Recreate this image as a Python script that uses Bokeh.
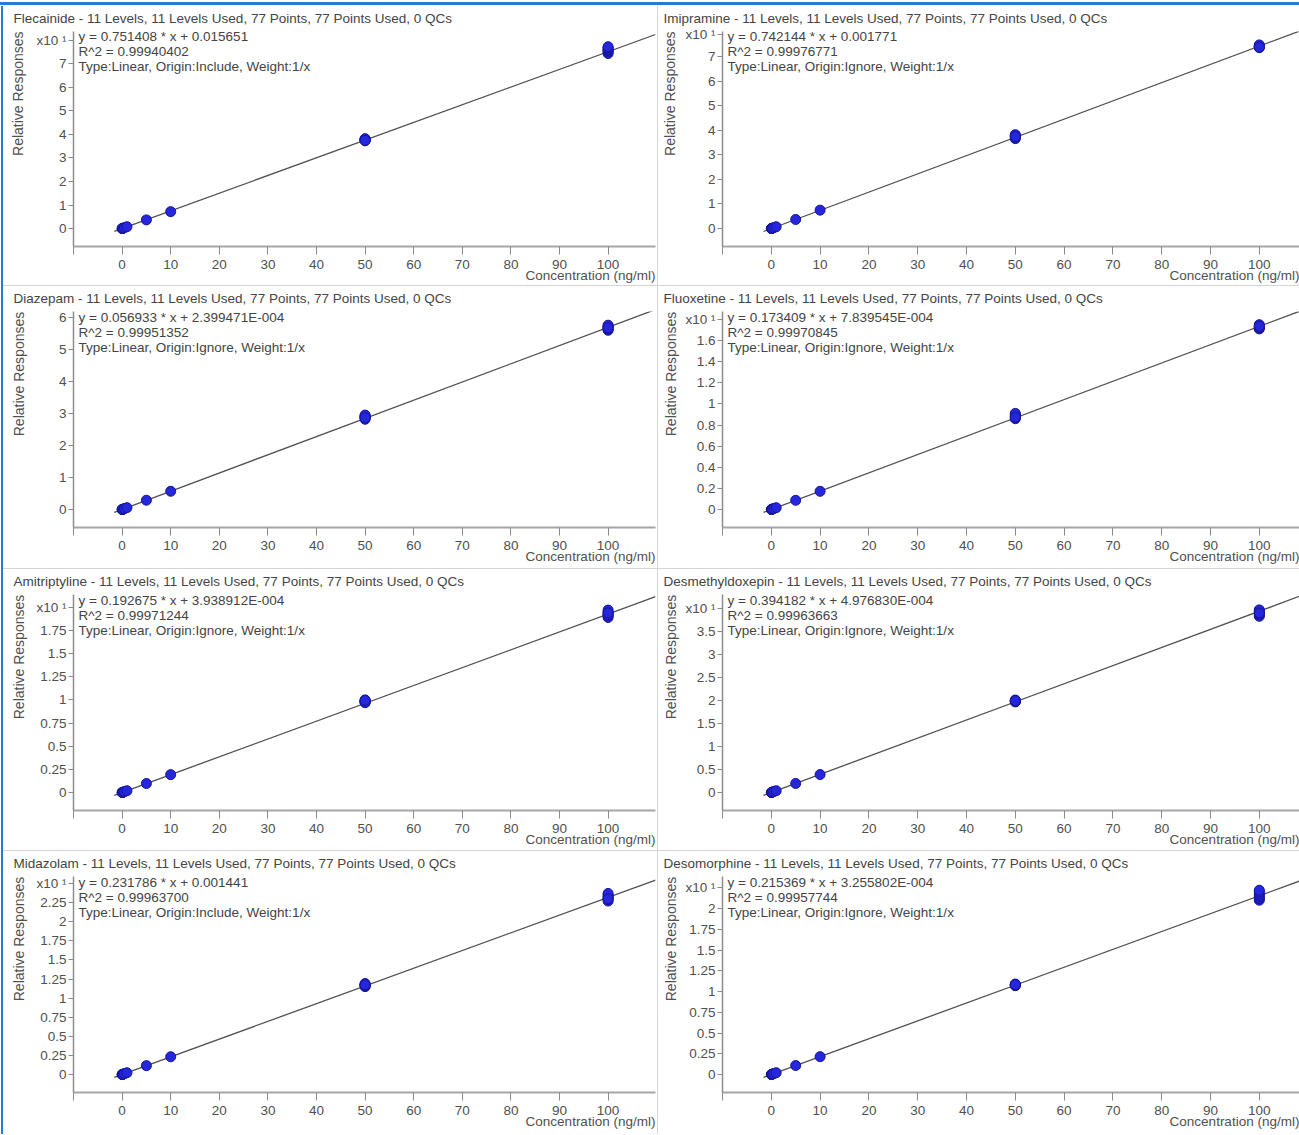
import numpy as np
from bokeh.plotting import figure
from bokeh.models import Range1d, FixedTicker, Label, LinearAxis, Div
from bokeh.layouts import column, row
from bokeh.embed import file_html
from bokeh.resources import INLINE

# ---------------- data ----------------
compounds = ["Flecainide", "Imipramine", "Diazepam", "Fluoxetine",
             "Amitriptyline", "Desmethyldoxepin", "Midazolam", "Desomorphine"]
slopes = [0.751408, 0.742144, 0.056933, 0.173409, 0.192675, 0.394182, 0.231786, 0.215369]
intercepts = [0.015651, 0.001771, 2.399471e-4, 7.839545e-4, 3.938912e-4, 4.976830e-4, 0.001441, 3.255802e-4]
slope_text = ["0.751408", "0.742144", "0.056933", "0.173409", "0.192675", "0.394182", "0.231786", "0.215369"]
intercept_text = ["0.015651", "0.001771", "2.399471E-004", "7.839545E-004",
                  "3.938912E-004", "4.976830E-004", "0.001441", "3.255802E-004"]
r2_text = ["0.99940402", "0.99976771", "0.99951352", "0.99970845",
           "0.99971244", "0.99963663", "0.99963700", "0.99957744"]
origin_text = ["Include", "Ignore", "Ignore", "Ignore", "Ignore", "Ignore", "Include", "Ignore"]
exponent = [1, 1, 0, 1, 1, 1, 1, 1]

levels_low = [0.01, 0.02, 0.05, 0.1, 0.2, 0.5, 1, 5, 10]

# relative responses as displayed on each axis (x10^exponent)
resp_low = {
    "Flecainide":       [0.002, 0.003, 0.005, 0.009, 0.017, 0.040, 0.078, 0.37, 0.72],
    "Imipramine":       [0.001, 0.002, 0.004, 0.007, 0.015, 0.037, 0.074, 0.37, 0.75],
    "Diazepam":         [0.001, 0.001, 0.003, 0.006, 0.011, 0.029, 0.057, 0.29, 0.57],
    "Fluoxetine":       [0.0002, 0.0004, 0.001, 0.0018, 0.0035, 0.0087, 0.017, 0.087, 0.172],
    "Amitriptyline":    [0.0002, 0.0004, 0.001, 0.002, 0.0039, 0.0097, 0.019, 0.097, 0.193],
    "Desmethyldoxepin": [0.0004, 0.0008, 0.002, 0.0039, 0.0079, 0.020, 0.039, 0.197, 0.39],
    "Midazolam":        [0.0002, 0.0005, 0.0012, 0.0023, 0.0046, 0.0116, 0.023, 0.116, 0.232],
    "Desomorphine":     [0.0002, 0.0004, 0.0011, 0.0022, 0.0043, 0.0108, 0.0215, 0.108, 0.215],
}
resp_50 = {
    "Flecainide":       [3.73, 3.76, 3.78, 3.80, 3.77, 3.82, 3.75],
    "Imipramine":       [3.66, 3.70, 3.73, 3.76, 3.79, 3.82, 3.74],
    "Diazepam":         [2.82, 2.86, 2.88, 2.90, 2.93, 2.95, 2.87],
    "Fluoxetine":       [0.86, 0.87, 0.88, 0.89, 0.90, 0.91, 0.875],
    "Amitriptyline":    [0.97, 0.98, 0.99, 1.00, 0.985, 0.975, 0.995],
    "Desmethyldoxepin": [1.97, 1.98, 1.99, 2.00, 2.01, 1.985, 1.995],
    "Midazolam":        [1.15, 1.16, 1.17, 1.18, 1.19, 1.165, 1.175],
    "Desomorphine":     [1.07, 1.075, 1.08, 1.085, 1.09, 1.078, 1.082],
}
resp_100 = {
    "Flecainide":       [7.44, 7.50, 7.55, 7.58, 7.63, 7.68, 7.73],
    "Imipramine":       [7.36, 7.39, 7.41, 7.44, 7.42, 7.47, 7.38],
    "Diazepam":         [5.60, 5.63, 5.66, 5.70, 5.73, 5.76, 5.68],
    "Fluoxetine":       [1.71, 1.72, 1.73, 1.74, 1.75, 1.725, 1.735],
    "Amitriptyline":    [1.89, 1.91, 1.93, 1.95, 1.97, 1.92, 1.94],
    "Desmethyldoxepin": [3.83, 3.86, 3.89, 3.92, 3.95, 3.97, 3.90],
    "Midazolam":        [2.27, 2.29, 2.31, 2.33, 2.35, 2.37, 2.30],
    "Desomorphine":     [2.10, 2.12, 2.14, 2.16, 2.18, 2.20, 2.22],
}

y_ticks = [
    [0, 1, 2, 3, 4, 5, 6, 7],
    [0, 1, 2, 3, 4, 5, 6, 7],
    [0, 1, 2, 3, 4, 5, 6],
    [0, 0.2, 0.4, 0.6, 0.8, 1, 1.2, 1.4, 1.6],
    [0, 0.25, 0.5, 0.75, 1, 1.25, 1.5, 1.75],
    [0, 0.5, 1, 1.5, 2, 2.5, 3, 3.5],
    [0, 0.25, 0.5, 0.75, 1, 1.25, 1.5, 1.75, 2, 2.25],
    [0, 0.25, 0.5, 0.75, 1, 1.25, 1.5, 1.75, 2],
]
exp_tick = [8, 7.9, None, 1.8, 2.0, 4.0, 2.5, 2.25]
x_ticks = [-10, 0, 10, 20, 30, 40, 50, 60, 70, 80, 90, 100]
y_title = "Relative Responses"
x_title = "Concentration (ng/ml)"

# ---------------- layout / style ----------------
ppu_y = [23.64, 24.7, 32.0, 105.6, 92.6, 46.0, 76.4, 83.0]   # px per y unit
ROW_H = [279, 282, 281, 283]
TOP_B = 25
FRAME_H = 216
FONT = "Liberation Sans"
TXT = "#444444"
TICK_TXT = "#505050"
AXIS_COL = "#a6a6a6"
SEP = "#d4d4d4"
FS = "13.5px"


def fmt(v):
    return "%g" % v


def plain_axis(ax, size=FS):
    ax.axis_line_color = None
    ax.major_tick_line_color = None
    ax.minor_tick_line_color = None
    ax.major_tick_in = 0
    ax.major_tick_out = 0
    ax.major_label_text_font = FONT
    ax.major_label_text_font_size = size
    ax.major_label_text_color = TICK_TXT


def make_panel(i, col):
    name = compounds[i]
    r = i // 2
    if col == 0:
        W, mbl, mbr, ppu = 653, 70, 1, 4.86
    else:
        W, mbl, mbr, ppu = 641, 64, 0, 4.88
    frame_w = W - mbl - mbr
    x_hi = -10 + frame_w / ppu
    y_lo = -18.0 / ppu_y[i]
    y_hi = y_lo + FRAME_H / ppu_y[i]
    title = f"{name} - 11 Levels, 11 Levels Used, 77 Points, 77 Points Used, 0 QCs"
    p = figure(width=W, height=ROW_H[r], output_backend="svg", toolbar_location=None,
               x_range=Range1d(-10, x_hi), y_range=Range1d(y_lo, y_hi),
               min_border_left=mbl, min_border_right=mbr,
               min_border_top=TOP_B, min_border_bottom=ROW_H[r] - TOP_B - FRAME_H,
               x_axis_type=None, y_axis_type=None, title=title)
    p.outline_line_color = None
    p.background_fill_color = "white"
    p.border_fill_color = "white"

    p.title.align = "left"
    p.title.vertical_align = "top"
    p.title.offset = -(mbl - 10) if col == 0 else -(mbl - 5)
    p.title.standoff = 7
    p.title.text_font = FONT
    p.title.text_font_size = FS
    p.title.text_font_style = "normal"
    p.title.text_color = TXT

    # x axis
    xa = LinearAxis(ticker=FixedTicker(ticks=x_ticks))
    xa.major_label_overrides = {t: ("" if t < 0 else str(t)) for t in x_ticks}
    xa.axis_line_color = AXIS_COL
    xa.axis_line_width = 2
    xa.major_tick_line_color = "#8a8a8a"
    xa.major_tick_in = 0
    xa.major_tick_out = 8
    xa.minor_tick_line_color = None
    xa.major_label_standoff = 5
    xa.major_label_text_font = FONT
    xa.major_label_text_font_size = FS
    xa.major_label_text_color = TICK_TXT
    p.add_layout(xa, "below")

    # x axis title, right-aligned at the end of the axis
    xc = x_hi - 65.0 / ppu
    xt = LinearAxis(ticker=FixedTicker(ticks=[xc]))
    xt.major_label_overrides = {xc: x_title}
    plain_axis(xt)
    xt.major_label_standoff = -4
    p.add_layout(xt, "below")

    # y axis
    ticks = list(y_ticks[i])
    overrides = {t: fmt(t) for t in ticks}
    if exp_tick[i] is not None:
        ticks.append(exp_tick[i])
        overrides[exp_tick[i]] = "x10 \u00b9"
    ya = LinearAxis(ticker=FixedTicker(ticks=ticks))
    ya.major_label_overrides = overrides
    ya.axis_line_color = "#8c8c8c"
    ya.axis_line_width = 1.5
    ya.major_tick_line_color = "#8a8a8a"
    ya.major_tick_in = 0
    ya.major_tick_out = 5
    ya.minor_tick_line_color = None
    ya.major_label_standoff = 2
    ya.major_label_text_font = FONT
    ya.major_label_text_font_size = FS
    ya.major_label_text_color = TICK_TXT
    p.add_layout(ya, "left")

    # y axis title, placed from the top of the axis downwards
    yc = y_hi - 62.5 / ppu_y[i]
    yt = LinearAxis(ticker=FixedTicker(ticks=[yc]))
    yt.major_label_overrides = {yc: y_title}
    yt.major_label_orientation = "vertical"
    plain_axis(yt, "14px")
    if col == 1:
        yt.major_label_standoff = 4
    else:
        yt.major_label_standoff = 7 if exp_tick[i] is not None else 29
    p.add_layout(yt, "left")

    scale = 10.0 ** exponent[i]
    # regression line
    lx = [-1.6, x_hi]
    ly = [(slopes[i] * v + intercepts[i]) / scale for v in lx]
    p.line(lx, ly, line_color="#505050", line_width=1.3)

    # points
    xs = list(levels_low) + [50] * len(resp_50[name]) + [100] * len(resp_100[name])
    ys = list(resp_low[name]) + list(resp_50[name]) + list(resp_100[name])
    p.scatter(xs, ys, size=10, fill_color="#2626dc", line_color="#15159a", line_width=1)

    eq_lines = [f"y = {slope_text[i]} * x  + {intercept_text[i]}",
                f"R^2 = {r2_text[i]}",
                f"Type:Linear, Origin:{origin_text[i]}, Weight:1/x"]
    for k, t in enumerate(eq_lines):
        p.add_layout(Label(x=5, y=FRAME_H - 6 - 15 * k, x_units="screen", y_units="screen",
                           text=t, text_font=FONT, text_font_size=FS, text_color=TXT,
                           text_baseline="middle", text_align="left"))
    return p


panels = [make_panel(i, i % 2) for i in range(8)]

rows = []
for r in range(4):
    if r > 0:
        rows.append(Div(width=1296, height=1, margin=(0, 0, 0, 0), styles={"background-color": SEP}))
    rows.append(row(panels[2 * r],
                    Div(width=2, height=ROW_H[r], margin=(0, 0, 0, 0),
                        styles={"background": "linear-gradient(90deg, #ffffff 0px, #ffffff 1px, #d4d4d4 1px)"}),
                    panels[2 * r + 1], spacing=0))
grid = column(*rows, spacing=0)

top_bar = Div(width=1299, height=6, margin=(0, 0, 0, 0),
              styles={"background": "linear-gradient(#ffffff 0px, #ffffff 2px, #1f7fd6 2px, #1f7fd6 5px, #ffffff 5px)"})
left_bar = Div(width=3, height=sum(ROW_H) + 3, margin=(0, 0, 0, 0),
               styles={"background": "linear-gradient(90deg, #ffffff 0px, #ffffff 1px, #1f7fd6 1px, #1f7fd6 3px)"})
root = column(top_bar, row(left_bar, grid, spacing=0), spacing=0)

open("out.html", "w").write(file_html(root, INLINE))
